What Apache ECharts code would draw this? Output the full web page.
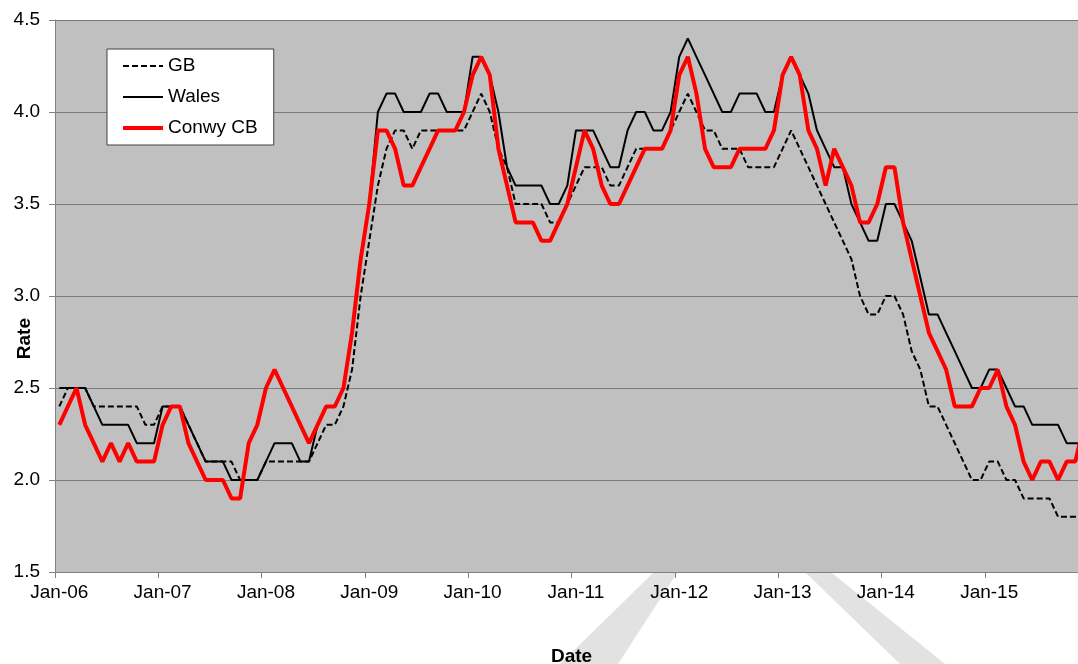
<!DOCTYPE html>
<html>
<head>
<meta charset="utf-8">
<script src="https://cdn.jsdelivr.net/npm/echarts@6/dist/echarts.min.js"></script>
<style>
html,body{margin:0;padding:0;background:#fff;}
#c{width:1078px;height:664px;}
</style>
</head>
<body>
<div id="c"></div>
<script>
const monthNames = ['Jan','Feb','Mar','Apr','May','Jun','Jul','Aug','Sep','Oct','Nov','Dec'];
const yearNames = ['06','07','08','09','10','11','12','13','14','15'];
const yTicks = [1.5, 2.0, 2.5, 3.0, 3.5, 4.0, 4.5];

const gb = [
2.4,2.5,2.5,2.5,2.4,2.4,2.4,2.4,2.4,2.4,2.3,2.3,
2.4,2.4,2.4,2.3,2.2,2.1,2.1,2.1,2.1,2.0,2.0,2.0,
2.1,2.1,2.1,2.1,2.1,2.1,2.2,2.3,2.3,2.4,2.6,3.0,
3.3,3.6,3.8,3.9,3.9,3.8,3.9,3.9,3.9,3.9,3.9,3.9,
4.0,4.1,4.0,3.8,3.7,3.5,3.5,3.5,3.5,3.4,3.4,3.5,
3.6,3.7,3.7,3.7,3.6,3.6,3.7,3.8,3.8,3.8,3.8,3.9,
4.0,4.1,4.0,3.9,3.9,3.8,3.8,3.8,3.7,3.7,3.7,3.7,
3.8,3.9,3.8,3.7,3.6,3.5,3.4,3.3,3.2,3.0,2.9,2.9,
3.0,3.0,2.9,2.7,2.6,2.4,2.4,2.3,2.2,2.1,2.0,2.0,
2.1,2.1,2.0,2.0,1.9,1.9,1.9,1.9,1.8,1.8,1.8,1.8
];
const wales = [
2.5,2.5,2.5,2.5,2.4,2.3,2.3,2.3,2.3,2.2,2.2,2.2,
2.4,2.4,2.4,2.3,2.2,2.1,2.1,2.1,2.0,2.0,2.0,2.0,
2.1,2.2,2.2,2.2,2.1,2.1,2.3,2.4,2.4,2.5,2.8,3.2,
3.5,4.0,4.1,4.1,4.0,4.0,4.0,4.1,4.1,4.0,4.0,4.0,
4.3,4.3,4.2,4.0,3.7,3.6,3.6,3.6,3.6,3.5,3.5,3.6,
3.9,3.9,3.9,3.8,3.7,3.7,3.9,4.0,4.0,3.9,3.9,4.0,
4.3,4.4,4.3,4.2,4.1,4.0,4.0,4.1,4.1,4.1,4.0,4.0,
4.2,4.3,4.2,4.1,3.9,3.8,3.7,3.7,3.5,3.4,3.3,3.3,
3.5,3.5,3.4,3.3,3.1,2.9,2.9,2.8,2.7,2.6,2.5,2.5,
2.6,2.6,2.5,2.4,2.4,2.3,2.3,2.3,2.3,2.2,2.2,2.2
];
const conwy = [
2.3,2.4,2.5,2.3,2.2,2.1,2.2,2.1,2.2,2.1,2.1,2.1,
2.3,2.4,2.4,2.2,2.1,2.0,2.0,2.0,1.9,1.9,2.2,2.3,
2.5,2.6,2.5,2.4,2.3,2.2,2.3,2.4,2.4,2.5,2.8,3.2,
3.5,3.9,3.9,3.8,3.6,3.6,3.7,3.8,3.9,3.9,3.9,4.0,
4.2,4.3,4.2,3.8,3.6,3.4,3.4,3.4,3.3,3.3,3.4,3.5,
3.7,3.9,3.8,3.6,3.5,3.5,3.6,3.7,3.8,3.8,3.8,3.9,
4.2,4.3,4.1,3.8,3.7,3.7,3.7,3.8,3.8,3.8,3.8,3.9,
4.2,4.3,4.2,3.9,3.8,3.6,3.8,3.7,3.6,3.4,3.4,3.5,
3.7,3.7,3.4,3.2,3.0,2.8,2.7,2.6,2.4,2.4,2.4,2.5,
2.5,2.6,2.4,2.3,2.1,2.0,2.1,2.1,2.0,2.1,2.1,2.3
];

const categories = [];
yearNames.forEach(y => monthNames.forEach(m => categories.push(m + '-' + y)));

const FONT = '"Liberation Sans", Arial, sans-serif';
const chart = echarts.init(document.getElementById('c'), null, {renderer: 'canvas'});
chart.setOption({
  animation: false,
  backgroundColor: '#ffffff',
  graphic: [
    {type: 'polygon', z: -10, shape: {points: [[653,573],[677,573],[618,664],[560,664]]}, style: {fill: '#e2e2e2'}},
    {type: 'polygon', z: -10, shape: {points: [[806,573],[832,573],[945,664],[900,664]]}, style: {fill: '#e2e2e2'}},
    {type: 'text', left: 15, top: 318, rotation: Math.PI/2, style: {text: 'Rate', font: 'bold 19px ' + FONT, fill: '#000'}}
  ],
  grid: {left: 55, top: 20, right: -10.2, bottom: 92, show: true, backgroundColor: '#c0c0c0', borderWidth: 0, containLabel: false, outerBoundsMode: 'none'},
  legend: {
    orient: 'vertical', left: 107, top: 49,
    padding: [7, 16, 7, 14], itemGap: 11, itemWidth: 40, itemHeight: 20,
    backgroundColor: '#ffffff', borderColor: '#404040', borderWidth: 1, borderRadius: 0,
    itemStyle: {color: 'rgba(0,0,0,0)', borderWidth: 0, borderColor: 'rgba(0,0,0,0)'},
    lineStyle: {width: 'inherit', type: 'inherit'},
    textStyle: {fontFamily: FONT, fontSize: 19, color: '#000', lineHeight: 20},
    data: ['GB', 'Wales', 'Conwy CB']
  },
  xAxis: {
    type: 'category', data: categories, boundaryGap: true,
    name: 'Date', nameLocation: 'middle', nameGap: 75,
    nameTextStyle: {fontFamily: FONT, fontSize: 19, fontWeight: 'bold', color: '#000'},
    axisLine: {lineStyle: {color: '#808080', width: 1}},
    axisTick: {show: true, interval: 11, length: 6, lineStyle: {color: '#808080'}},
    axisLabel: {interval: 11, margin: 11, fontFamily: FONT, fontSize: 19, color: '#000'},
    splitLine: {show: false}
  },
  yAxis: {
    type: 'value', min: 1.5, max: 4.5, interval: 0.5,
    axisLine: {show: true, lineStyle: {color: '#808080', width: 1}},
    axisTick: {show: true, length: 6, lineStyle: {color: '#808080'}},
    axisLabel: {margin: 15, fontFamily: FONT, fontSize: 19, color: '#000', formatter: v => v.toFixed(1)},
    splitLine: {show: true, lineStyle: {color: '#7a7a7a', width: 1}}
  },
  series: [
    {name: 'GB', type: 'line', data: gb, symbol: 'none', lineStyle: {color: '#000', width: 2, type: [6, 3]}, itemStyle: {color: '#000'}},
    {name: 'Wales', type: 'line', data: wales, symbol: 'none', lineStyle: {color: '#000', width: 2}, itemStyle: {color: '#000'}},
    {name: 'Conwy CB', type: 'line', data: conwy, symbol: 'none', lineStyle: {color: '#ff0000', width: 4}, itemStyle: {color: '#ff0000'}}
  ]
});
</script>
</body>
</html>
